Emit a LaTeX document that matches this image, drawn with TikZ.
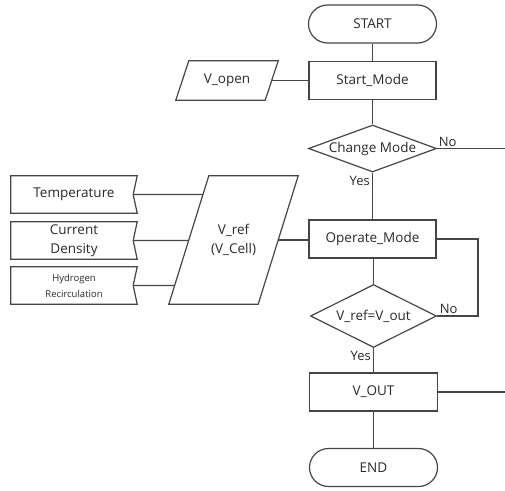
\documentclass[tikz,border=0pt]{standalone}
\usepackage{fontspec}
\setmainfont{Open Sans}
\usetikzlibrary{shapes.geometric,calc}
\definecolor{linegray}{HTML}{454545}
\definecolor{txtgray}{HTML}{2A2A2A}
\tikzset{
  ln/.style={draw=linegray, line width=1.2pt},
  txt/.style={text=txtgray, font=\fontsize{13.5}{19}\selectfont, inner sep=0pt, align=center},
  smalltxt/.style={text=txtgray, font=\fontsize{9.5}{16}\selectfont, inner sep=0pt, align=center},
  proc/.style={ln, rectangle, minimum width=127pt, minimum height=38pt, inner sep=0pt},
  term/.style={ln, rectangle, rounded corners=19pt, minimum width=128pt, minimum height=38pt, inner sep=0pt},
  dec/.style={ln, diamond, inner sep=0pt},
  frame/.style={rectangle, inner sep=0pt},
  srcbox/.style={rectangle, minimum width=126pt, minimum height=37pt, inner sep=0pt},
  lbl/.style={text=txtgray, font=\fontsize{13}{15}\selectfont, inner sep=1.5pt},
}
\begin{document}
\begin{tikzpicture}[x=1pt,y=-1pt]
\useasboundingbox (0,0) rectangle (505,490);

% main column
\node[term] (start) at (372.5,24) {};
\node[txt] (starttxt) at (start) {START};
\node[proc] (startmode) at (372.5,80.5) {};
\node[txt] (startmodetxt) at (startmode) {Start\_Mode};
\node[dec, minimum width=128pt, minimum height=47pt] (cm) at (372.5,148.5) {};
\node[txt] (cmtxt) at (cm) {Change Mode};
\node[proc] (opmode) at (372.5,239) {};
\node[txt] (opmodetxt) at (opmode) {Operate\_Mode};
\node[dec, minimum width=126pt, minimum height=63pt] (vcheck) at (373.5,316) {};
\node[txt] (vchecktxt) at (vcheck) {V\_ref=V\_out};
\node[proc, minimum width=128pt] (vout) at (373.5,392) {};
\node[txt] (vouttxt) at (vout) {V\_OUT};
\node[term] (end) at (373.5,467.5) {};
\node[txt] (endtxt) at (end) {END};

% input parallelograms (frame node + drawn outline)
\node[frame, minimum width=102pt, minimum height=39pt] (vopen) at (227,80.5) {};
\coordinate (otl) at ($(vopen.north west)+(13,0)$);
\coordinate (otr) at (vopen.north east);
\coordinate (obr) at ($(vopen.south east)+(-13,0)$);
\coordinate (obl) at (vopen.south west);
\draw[ln] (otl) -- (otr) -- (obr) -- (obl) -- cycle;
\coordinate (oright) at ($(otr)!0.5!(obr)$);
\node[txt] (vopentxt) at (vopen) {V\_open};

\node[frame, minimum width=129pt, minimum height=128pt] (vref) at (233.5,240) {};
\coordinate (vtl) at ($(vref.north west)+(40,0)$);
\coordinate (vtr) at (vref.north east);
\coordinate (vbr) at ($(vref.south east)+(-40,0)$);
\coordinate (vbl) at (vref.south west);
\draw[ln] (vtl) -- (vtr) -- (vbr) -- (vbl) -- cycle;
\coordinate (vright) at ($(vtr)!0.5!(vbr)$);
\node[txt] (vreftxt) at (vref) {V\_ref\\(V\_Cell)};

\node[srcbox] (temp) at (74,194.5) {};
\node[txt] (temptxt) at (temp) {Temperature};
\node[srcbox] (curr) at (74,240.5) {};
\node[txt] (currtxt) at (curr) {Current\\Density};
\node[srcbox] (hyd) at (74,285.5) {};
\node[smalltxt] (hydtxt) at (hyd) {Hydrogen\\Recirculation};

\foreach \n in {temp,curr,hyd}{
  \coordinate (\n notch) at ($(\n.east)+(-4,0)$);
  \draw[ln] (\n.north west) -- (\n.north east) -- (\n notch) -- (\n.south east) -- (\n.south west) -- cycle;
  \coordinate (\n far) at ($(\n.east)+(40,0)$);
}

% connectors
\draw[ln] (start) -- (startmode);
\draw[ln] (oright) -- (oright -| startmode.west);
\draw[ln] (startmode) -- (cm);
\coordinate (exitA) at (505,148.5);
\draw[ln] (cm.east) -- (exitA);
\node[lbl, anchor=south west] (noA) at (cm.east) {No};
\draw[ln] (cm.south) -- (opmode.north);
\node[lbl, anchor=north east] (yesA) at ($(cm.south)+(-1,2)$) {Yes};
\draw[ln] (vright) -- (vright -| opmode.west);
\foreach \n in {temp,curr,hyd}{
  \draw[ln] (\n notch) -- (intersection of \n notch--\n far and vbl--vtl);
}
\coordinate (loopR) at (478,239);
\draw[ln] (opmode.east) -- (loopR) |- (vcheck.east);
\node[lbl, anchor=south west] (noB) at ($(vcheck.east)+(1,-1)$) {No};
\draw[ln] (opmode.south -| vcheck.north) -- (vcheck.north);
\draw[ln] (vcheck.south) -- (vout.north);
\node[lbl, anchor=north east] (yesB) at ($(vcheck.south)+(-1,1)$) {Yes};
\coordinate (exitB) at (505,392);
\draw[ln] (vout.east) -- (exitB);
\draw[ln] (vout) -- (end);
\end{tikzpicture}
\end{document}
